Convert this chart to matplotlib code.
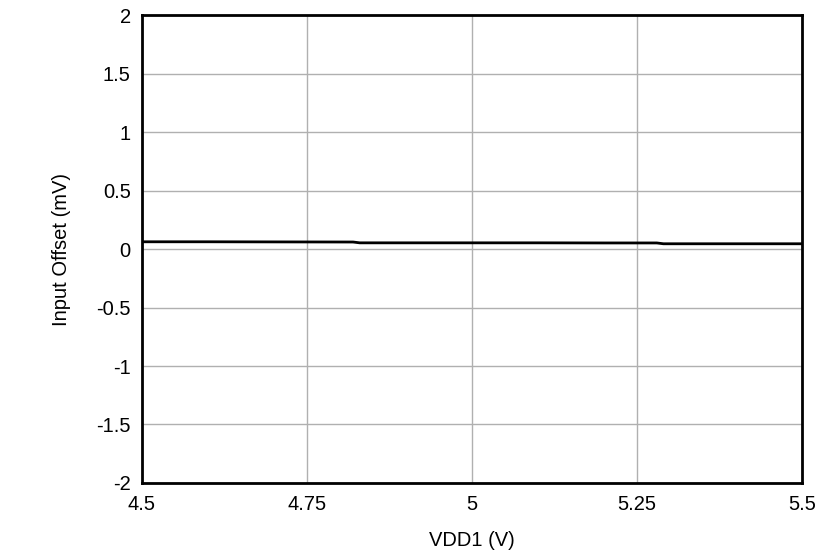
import matplotlib
matplotlib.use("Agg")
import matplotlib.pyplot as plt

plt.rcParams["font.family"] = ["Liberation Sans", "DejaVu Sans"]

# ── Data ──────────────────────────────────────────────────────────────────────
vdd1 = [4.5, 4.6, 4.7, 4.82, 4.83, 4.9, 5.0, 5.1, 5.2, 5.28, 5.29, 5.4, 5.5]
offset = [0.062, 0.062, 0.061, 0.060, 0.053, 0.053, 0.053, 0.053, 0.052, 0.052, 0.045, 0.045, 0.045]
xticks = [4.5, 4.75, 5, 5.25, 5.5]
xticklabels = ["4.5", "4.75", "5", "5.25", "5.5"]
yticks = [-2, -1.5, -1, -0.5, 0, 0.5, 1, 1.5, 2]
yticklabels = ["-2", "-1.5", "-1", "-0.5", "0", "0.5", "1", "1.5", "2"]

fig = plt.figure(figsize=(8.39, 5.59), dpi=100)
ax = fig.add_axes([0.169, 0.136, 0.787, 0.837])
ax.plot(vdd1, offset, color="black", lw=2)

ax.set_xlim(4.5, 5.5)
ax.set_ylim(-2, 2)
ax.set_xticks(xticks, xticklabels, fontsize=14.5)
ax.set_yticks(yticks, yticklabels, fontsize=14.5)
ax.tick_params(axis="x", length=0, pad=9)
ax.tick_params(axis="y", length=0, pad=8)
ax.grid(True, color="#b0b0b0", lw=1)
for s in ax.spines.values():
    s.set_linewidth(2)
ax.set_xlabel("VDD1 (V)", fontsize=14.5, labelpad=12)
ax.set_ylabel("Input Offset (mV)", fontsize=14.5, labelpad=18)

fig.savefig("out.png", dpi=100, facecolor="white")
